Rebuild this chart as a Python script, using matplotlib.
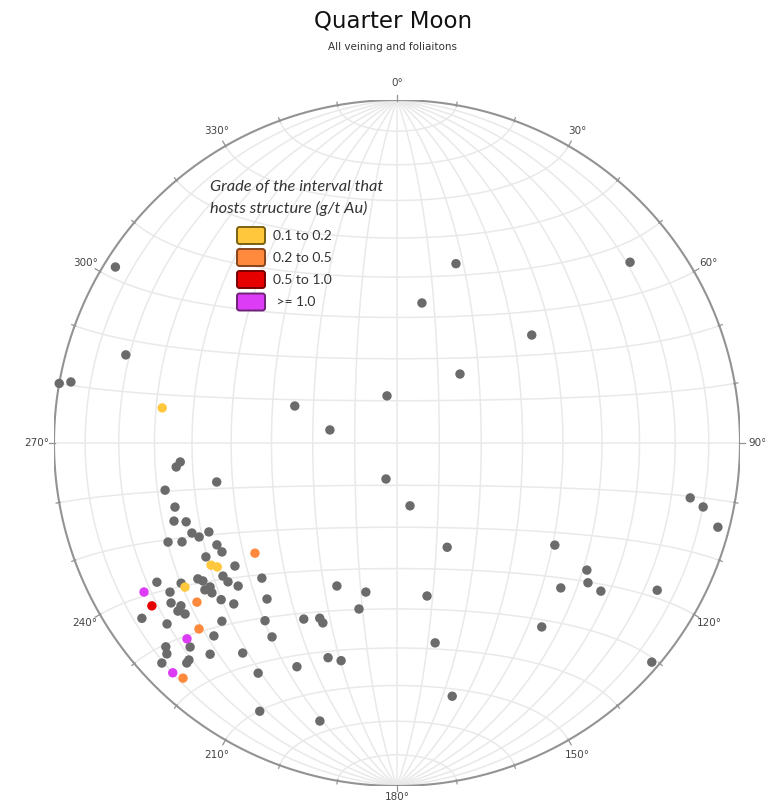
import numpy as np
import matplotlib
matplotlib.use("Agg")
import matplotlib.pyplot as plt
from matplotlib.patches import FancyBboxPatch

# ---------------- data: poles as trend / plunge (degrees, lower hemisphere) -------------
grey_trend = [302.0, 288.0, 280.0, 280.6, 18.2, 52.2, 10.1, 51.3, 42.4, 348.0, 289.9, 281.0,
              265.0, 263.8, 257.8, 258.5, 253.9, 250.7, 249.5, 246.3, 244.6, 244.7, 246.6, 245.3,
              240.5, 238.1, 239.2, 232.8, 232.6, 230.6, 228.0, 225.0, 239.9, 237.0, 235.7, 234.6,
              232.4, 232.6, 231.0, 236.7, 234.7, 233.0, 232.5, 231.1, 228.3, 225.4, 219.8, 235.5,
              231.8, 224.5, 216.6, 223.5, 212.8, 228.6, 225.4, 227.5, 221.5, 216.3, 226.9, 223.8,
              223.7, 211.1, 204.1, 207.1, 195.5, 197.8, 194.4, 207.9, 203.8, 202.4, 202.8, 191.8,
              192.9, 168.9, 169.2, 167.7, 197.0, 168.3, 154.3, 122.9, 123.8, 126.2, 131.5, 126.0,
              141.8, 119.5, 130.7, 100.6, 101.8, 104.7]
grey_plunge = [3.6, 18.0, 0.0, 3.7, 44.2, 15.1, 55.9, 48.3, 67.8, 78.6, 64.1, 73.8,
               36.7, 35.5, 45.3, 31.6, 33.1, 31.7, 34.7, 35.0, 36.3, 39.2, 28.1, 31.6,
               39.5, 39.7, 35.4, 40.4, 36.3, 36.4, 37.7, 43.6, 20.2, 25.9, 30.4, 31.2,
               31.8, 30.2, 31.2, 21.9, 20.4, 22.2, 20.6, 21.7, 31.9, 33.6, 40.5, 10.7,
               15.8, 28.0, 35.7, 23.5, 33.2, 11.1, 16.4, 9.9, 18.9, 25.0, 6.8, 13.4,
               12.3, 22.7, 29.3, 13.2, 17.0, 34.6, 34.8, 41.5, 43.5, 42.7, 52.7, 53.4,
               48.9, 52.5, 40.4, 25.4, 81.1, 74.8, 62.4, 44.4, 33.8, 31.6, 36.4, 27.4,
               32.3, 13.9, 2.3, 14.1, 9.7, 3.7]

grade_labels = ["0.1 to 0.2", "0.2 to 0.5", "0.5 to 1.0", " >= 1.0"]
grade_trend = [[278.5, 236.7, 235.4, 235.8],
               [232.2, 231.5, 226.8, 222.3],
               [236.4],
               [239.5, 227.0, 224.3]]
grade_plunge = [[31.4, 35.4, 36.5, 26.2],
                [46.5, 26.4, 21.9, 8.1],
                [15.3],
                [15.5, 17.4, 7.1]]
grade_colors = ["#FFC83C", "#FF8A3D", "#E60000", "#DC3CF5"]
grade_edges = ["#7A6214", "#86451C", "#780000", "#6E2278"]

azimuth_labels = list(range(0, 360, 30))

# ---------------- figure ---------------------------------------------------------------
W, H = 765, 806
fig = plt.figure(figsize=(W / 100, H / 100), dpi=100)
fig.patch.set_facecolor("white")
cx, cy, R = 397, 443, 343
ax = fig.add_axes([(cx - R) / W, (H - cy - R) / H, 2 * R / W, 2 * R / H])
ax.set_xlim(-1, 1)
ax.set_ylim(-1, 1)
ax.axis("off")


def project(trend, plunge):
    t = np.radians(np.asarray(trend, dtype=float))
    p = np.radians(np.asarray(plunge, dtype=float))
    x = np.cos(p) * np.sin(t)
    y = np.cos(p) * np.cos(t)
    z = np.sin(p)
    f = 1.0 / np.sqrt(1.0 + z)
    return x * f, y * f


def proj_vec(x, y, z):
    f = 1.0 / np.sqrt(1.0 + z)
    return x * f, y * f


gridc = "#E9E9E9"
s = np.radians(np.linspace(-90, 90, 721))
# small circles about N-S axis
for d in range(-80, 90, 10):
    phi = np.radians(d)
    X, Y = proj_vec(np.cos(phi) * np.sin(s), np.sin(phi) * np.ones_like(s), np.cos(phi) * np.cos(s))
    ax.plot(X, Y, color=gridc, lw=1.1, zorder=1)
# great circles through N and S
for d in range(-80, 90, 10):
    lam = np.radians(d)
    X, Y = proj_vec(np.cos(s) * np.sin(lam), np.sin(s), np.cos(s) * np.cos(lam))
    ax.plot(X, Y, color=gridc, lw=1.1, zorder=1)

# primitive circle
a = np.linspace(0, 2 * np.pi, 721)
ax.plot(np.cos(a), np.sin(a), color="#939393", lw=1.5, zorder=2)

# ticks
for az in range(0, 360, 10):
    r0, r1 = (0.997, 1.016) if az % 30 == 0 else (0.997, 1.009)
    t = np.radians(az)
    ax.plot([r0 * np.sin(t), r1 * np.sin(t)], [r0 * np.cos(t), r1 * np.cos(t)],
            color="#939393", lw=0.9, zorder=2, clip_on=False)

for az in azimuth_labels:
    t = np.radians(az)
    rr = 1.033 if az == 180 else 1.05
    ax.text(rr * np.sin(t), rr * np.cos(t), f"{az}°", ha="center", va="center",
            fontsize=7.5, color="#444444", clip_on=False)

# points
gx, gy = project(grey_trend, grey_plunge)
ax.scatter(gx, gy, s=46, color="#6B6B6B", edgecolors="none", zorder=4)
for tr, pl, c in zip(grade_trend, grade_plunge, grade_colors):
    px, py = project(tr, pl)
    ax.scatter(px, py, s=46, color=c, edgecolors="none", zorder=5)

# titles
fig.text(393 / W, 1 - 21 / H, "Quarter Moon", ha="center", va="center", fontsize=16.5, color="#111111")
fig.text(393 / W, 1 - 47 / H, "All veining and foliaitons", ha="center", va="center", fontsize=7.5,
         color="#333333")

# legend
fig.text(210 / W, 1 - 187 / H, "Grade of the interval that", ha="left", va="center",
         fontsize=11.8, style="italic", family="Lato", color="#333333")
fig.text(210 / W, 1 - 208 / H, "hosts structure (g/t Au)", ha="left", va="center",
         fontsize=11.8, style="italic", family="Lato", color="#333333")
box_y = [235.5, 257.5, 279.5, 302]
for yy, lab, c, e in zip(box_y, grade_labels, grade_colors, grade_edges):
    p = FancyBboxPatch(((237) / 100, (H - yy - 8.5) / 100), 28 / 100, 17 / 100,
                       boxstyle="round,pad=0,rounding_size=0.025",
                       transform=fig.dpi_scale_trans, facecolor=c, edgecolor=e, lw=1.4)
    fig.patches.append(p)
    fig.text(273 / W, 1 - yy / H, lab, ha="left", va="center", fontsize=10, family="Lato",
             color="#333333")

fig.savefig("out.png", dpi=100, facecolor="white")
